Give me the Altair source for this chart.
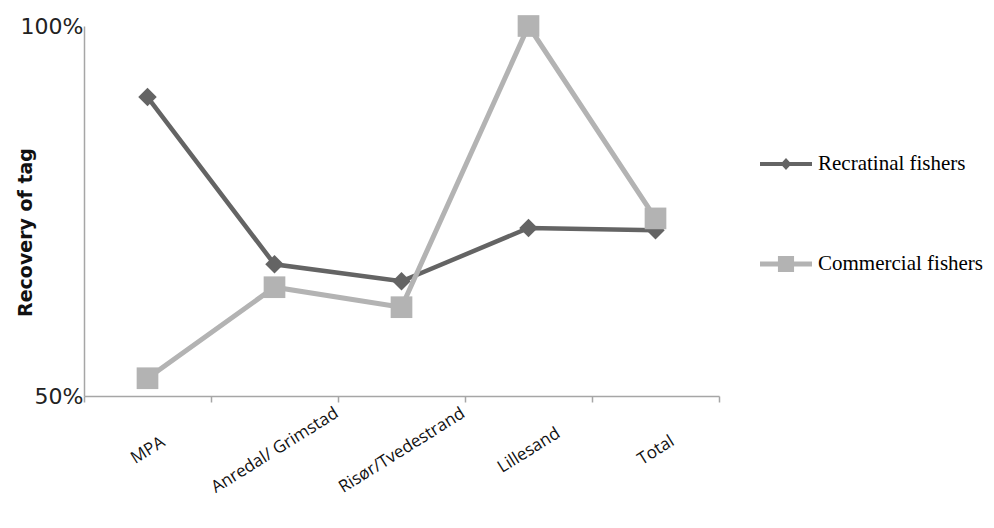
import altair as alt
import pandas as pd

categories = ["MPA", "Anredal/ Grimstad", "Risør/Tvedestrand", "Lillesand", "Total"]
recreational = [0.904, 0.678, 0.655, 0.727, 0.724]
commercial = [0.524, 0.647, 0.620, 1.000, 0.740]
series_names = ["Recratinal fishers", "Commercial fishers"]
series_colors = ["#646464", "#b3b3b3"]
y_tick_values = [0.5, 1.0]

rows = []
for name, vals in zip(series_names, [recreational, commercial]):
    for cat, v in zip(categories, vals):
        rows.append({"category": cat, "series": name, "value": v})
df = pd.DataFrame(rows)

color_scale = alt.Scale(domain=series_names, range=series_colors)

x_enc = alt.X(
    "category:N",
    sort=categories,
    bandPosition=0.5,
    scale=alt.Scale(type="band", paddingInner=0, paddingOuter=0),
    axis=alt.Axis(
        title=None,
        tickBand="extent",
        ticks=True,
        tickSize=6,
        tickColor="#a6a6a6",
        tickWidth=1.5,
        domainColor="#a6a6a6",
        domainWidth=1.5,
        labelAngle=-32,
        labelAlign="center",
        labelBaseline="middle",
        labelPadding=48,
        labelFont="Open Sans",
        labelFontSize=17,
        labelColor="#111111",
        labelOverlap=False,
        labelBound=False,
        labelFlush=False,
        grid=False,
    ),
)

y_enc = alt.Y(
    "value:Q",
    scale=alt.Scale(domain=[0.5, 1.0], nice=False, zero=False),
    axis=alt.Axis(
        title="Recovery of tag",
        titleFont="DejaVu Sans",
        titleFontSize=19,
        titleFontWeight="bold",
        titleColor="#111111",
        titleAngle=-90,
        titleAlign="center",
        titleBaseline="alphabetic",
        titleX=-53,
        titleY=206,
        values=y_tick_values,
        format=".0%",
        ticks=False,
        labelFont="DejaVu Sans",
        labelFontSize=22,
        labelColor="#222222",
        labelPadding=1,
        domainColor="#a6a6a6",
        domainWidth=1.5,
        grid=False,
    ),
)

rec_path = "M-1,-0.075H1V0.075H-1Z M0,-0.23L0.21,0L0,0.23L-0.21,0Z"
com_path = "M-1,-0.1H1V0.1H-1Z M-0.31,-0.31H0.31V0.31H-0.31Z"
shape_expr = "datum.value == '%s' ? '%s' : '%s'" % (series_names[0], rec_path, com_path)

legend = alt.Legend(
    title=None,
    orient="none",
    legendX=676,
    legendY=112,
    padding=0,
    symbolSize=2704,
    symbolType=alt.ExprRef(expr=shape_expr),
    symbolStrokeWidth=0,
    symbolOpacity=1,
    symbolFillColor=alt.ExprRef(expr="scale('color', datum.value)"),
    labelFont="Liberation Serif",
    labelFontSize=21,
    labelColor="#000000",
    labelOffset=6,
    labelLimit=300,
    rowPadding=64,
)

color_enc = alt.Color("series:N", scale=color_scale, legend=legend)

base = alt.Chart(df)

rec_line = base.transform_filter(alt.datum.series == series_names[0]).mark_line(
    strokeWidth=4.5
).encode(x=x_enc, y=y_enc, color=color_enc)

rec_pts = base.transform_filter(alt.datum.series == series_names[0]).mark_point(
    shape="diamond", filled=True, size=340, opacity=1
).encode(x=x_enc, y=y_enc, color=color_enc)

com_line = base.transform_filter(alt.datum.series == series_names[1]).mark_line(
    strokeWidth=5
).encode(x=x_enc, y=y_enc, color=color_enc)

com_pts = base.transform_filter(alt.datum.series == series_names[1]).mark_point(
    shape="square", filled=True, size=470, opacity=1
).encode(x=x_enc, y=y_enc, color=color_enc)

chart = alt.layer(rec_line, rec_pts, com_line, com_pts).properties(
    width=635,
    height=370,
    autosize=alt.AutoSizeParams(type="none"),
    padding={"left": 76, "top": 18, "right": 266, "bottom": 122},
    background="white",
).configure_view(stroke=None)

chart.save("out.html", embed_options={"renderer": "svg", "actions": False})
